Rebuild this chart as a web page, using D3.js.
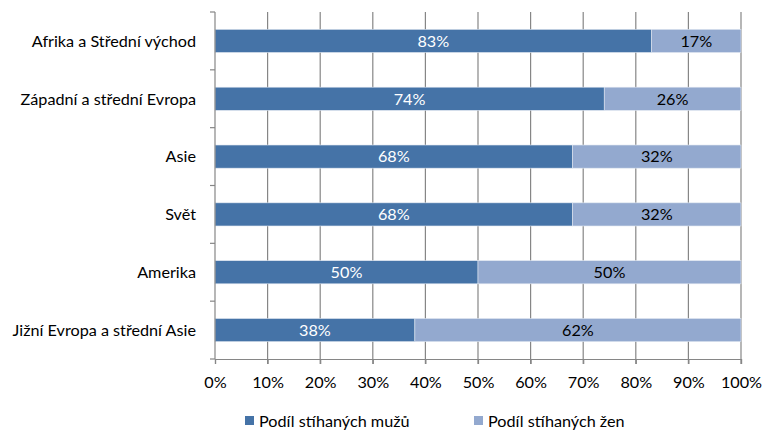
<!DOCTYPE html>
<html>
<head>
<meta charset="utf-8">
<script src="https://cdn.jsdelivr.net/npm/d3@7"></script>
<style>
body { margin: 0; background: #fff; }
text { font-family: Lato, "Open Sans", sans-serif; font-size: 16.2px; }
</style>
</head>
<body>
<div id="chart"></div>
<script>
var regions = ["Afrika a Střední východ", "Západní a střední Evropa", "Asie", "Svět", "Amerika", "Jižní Evropa a střední Asie"];
var men = [83, 74, 68, 68, 50, 38];
var women = [17, 26, 32, 32, 50, 62];
var seriesNames = ["Podíl stíhaných mužů", "Podíl stíhaných žen"];
var colors = ["#4573A7", "#93A9CF"];
var ticks = [0, 10, 20, 30, 40, 50, 60, 70, 80, 90, 100];

var width = 763, height = 430;
var plotLeft = 215, plotRight = 741, plotTop = 12, plotBottom = 359;

var svg = d3.select("#chart").append("svg")
    .attr("width", width)
    .attr("height", height);

var x = d3.scaleLinear().domain([0, 100]).range([plotLeft, plotRight]);
var y = d3.scaleBand().domain(regions).range([plotTop, plotBottom]).paddingInner(0.6).paddingOuter(0.3);

// gridlines
svg.selectAll("line.grid")
    .data(ticks.slice(1))
    .enter().append("line")
    .attr("x1", d => x(d)).attr("x2", d => x(d))
    .attr("y1", plotTop).attr("y2", plotBottom + 5)
    .attr("stroke", "#868686")
    .attr("stroke-width", 1.2);

// bars
var stack = regions.map(function(r, i) {
    return [{r: r, x0: 0, x1: men[i], s: 0}, {r: r, x0: men[i], x1: men[i] + women[i], s: 1}];
});
var segs = [].concat.apply([], stack);

svg.selectAll("rect.bar")
    .data(segs)
    .enter().append("rect")
    .attr("x", d => x(d.x0))
    .attr("y", d => y(d.r))
    .attr("width", d => x(d.x1) - x(d.x0))
    .attr("height", y.bandwidth())
    .attr("fill", d => colors[d.s])
    .attr("stroke", "#dfe6f0")
    .attr("stroke-width", 0.6);

svg.selectAll("text.val")
    .data(segs)
    .enter().append("text")
    .attr("x", d => (x(d.x0) + x(d.x1)) / 2)
    .attr("y", d => y(d.r) + y.bandwidth() / 2)
    .attr("dy", "0.36em")
    .attr("text-anchor", "middle")
    .attr("fill", d => d.s == 0 ? "#ffffff" : "#000000")
    .text(d => (d.x1 - d.x0) + "%");

// y axis
var yAxisG = svg.append("g");
yAxisG.append("line")
    .attr("x1", plotLeft).attr("x2", plotLeft)
    .attr("y1", plotTop).attr("y2", plotBottom)
    .attr("stroke", "#868686").attr("stroke-width", 1.2);
var bounds = d3.range(regions.length + 1).map(i => plotTop + i * (plotBottom - plotTop) / regions.length);
yAxisG.selectAll("line.tk")
    .data(bounds)
    .enter().append("line")
    .attr("x1", plotLeft - 5).attr("x2", plotLeft)
    .attr("y1", d => d).attr("y2", d => d)
    .attr("stroke", "#868686").attr("stroke-width", 1.2);
yAxisG.selectAll("text")
    .data(regions)
    .enter().append("text")
    .attr("x", plotLeft - 19)
    .attr("y", d => y(d) + y.bandwidth() / 2)
    .attr("dy", "0.36em")
    .attr("text-anchor", "end")
    .attr("fill", "#000")
    .text(d => d);

// x axis
var xAxis = d3.axisBottom(x).tickValues(ticks).tickSize(5).tickFormat(d => d + "%");
var xg = svg.append("g").attr("transform", "translate(0," + plotBottom + ")").call(xAxis);
xg.attr("font-size", null).attr("font-family", null);
xg.select(".domain").attr("stroke", "#868686").attr("stroke-width", 1.2);
xg.selectAll(".tick line").attr("stroke", "#868686").attr("stroke-width", 1.2);
xg.selectAll(".tick text").attr("fill", "#000").attr("y", 17);

// legend
var legendX = [245, 474];
var lg = svg.selectAll("g.legend")
    .data(seriesNames)
    .enter().append("g")
    .attr("transform", (d, i) => "translate(" + legendX[i] + ",421)");
lg.append("rect")
    .attr("x", 0).attr("y", -5)
    .attr("width", 9).attr("height", 9)
    .attr("fill", (d, i) => colors[i]);
lg.append("text")
    .attr("x", 14).attr("y", 0)
    .attr("dy", "0.36em")
    .attr("fill", "#000")
    .text(d => d);
</script>
</body>
</html>
